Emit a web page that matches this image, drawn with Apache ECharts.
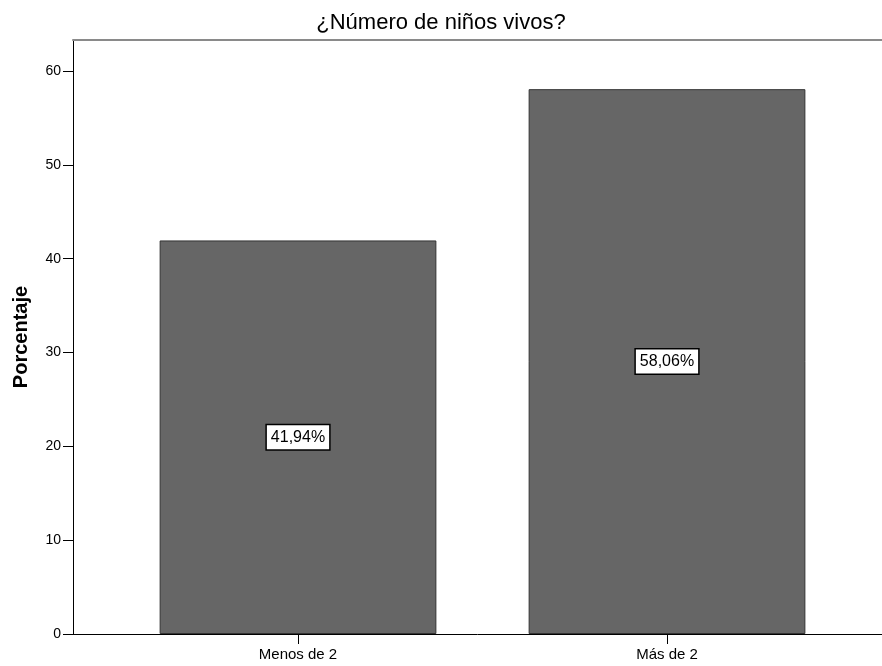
<!DOCTYPE html>
<html><head><meta charset="utf-8">
<script src="https://cdn.jsdelivr.net/npm/echarts@6/dist/echarts.min.js"></script>
<style>html,body{margin:0;padding:0;background:#fff}#c{width:882px;height:666px}</style>
</head><body><div id="c"></div>
<script>
const categories = ['Menos de 2', 'Más de 2'];
const percentages = [41.94, 58.06];
const yTicks = [0, 10, 20, 30, 40, 50, 60];
const titleText = '¿Número de niños vivos?';
const yName = 'Porcentaje';

const F = 'Liberation Sans, Arial, sans-serif';
const yMax = 63.3;
const chart = echarts.init(document.getElementById('c'), null, {renderer: 'canvas'});
chart.setOption({
  animation: false,
  backgroundColor: '#fff',
  title: {text: titleText, left: 'center', top: 7, textStyle: {fontFamily: F, fontSize: 22, fontWeight: 'normal', color: '#000'}},
  grid: [
    {left: 73, right: 0, top: 40, bottom: 32},
    {left: 113.5, right: 30.5, top: 40, bottom: 32}
  ],
  xAxis: [
    {gridIndex: 0, type: 'value', min: 0, max: 1, position: 'bottom',
     axisLine: {show: true, lineStyle: {color: '#000', width: 1}}, axisTick: {show: false}, axisLabel: {show: false}, splitLine: {show: false}},
    {gridIndex: 0, type: 'value', min: 0, max: 1, position: 'top',
     axisLine: {show: true, lineStyle: {color: '#8a8a8a', width: 2}}, axisTick: {show: false}, axisLabel: {show: false}, splitLine: {show: false}},
    {gridIndex: 1, type: 'category', data: categories, position: 'bottom',
     axisLine: {show: false}, axisTick: {show: true, alignWithLabel: true, length: 10, lineStyle: {color: '#000'}},
     axisLabel: {fontFamily: F, fontSize: 15, color: '#000', margin: 13}}
  ],
  yAxis: [
    {gridIndex: 0, type: 'value', min: 0, max: yMax, interval: 10,
     name: yName, nameLocation: 'middle', nameGap: 42, nameRotate: 90,
     nameTextStyle: {fontFamily: F, fontSize: 20, fontWeight: 'bold', color: '#000'},
     axisLine: {show: true, lineStyle: {color: '#000', width: 1}},
     axisTick: {show: true, length: 10, customValues: yTicks, lineStyle: {color: '#000'}},
     axisLabel: {fontFamily: F, fontSize: 14, color: '#000', margin: 12, customValues: yTicks},
     splitLine: {show: false}},
    {gridIndex: 1, type: 'value', min: 0, max: yMax, show: false}
  ],
  series: [{
    type: 'bar', xAxisIndex: 2, yAxisIndex: 1, data: percentages, barWidth: '75%',
    itemStyle: {color: '#666666', borderColor: '#333333', borderWidth: 1},
    label: {show: true, position: 'inside', fontFamily: F, fontSize: 16, lineHeight: 18, color: '#000',
      backgroundColor: '#fff', borderColor: '#000', borderWidth: 1.5, padding: [3, 4, 3, 4],
      formatter: p => p.value.toFixed(2).replace('.', ',') + '%'}
  }]
});
</script></body></html>
